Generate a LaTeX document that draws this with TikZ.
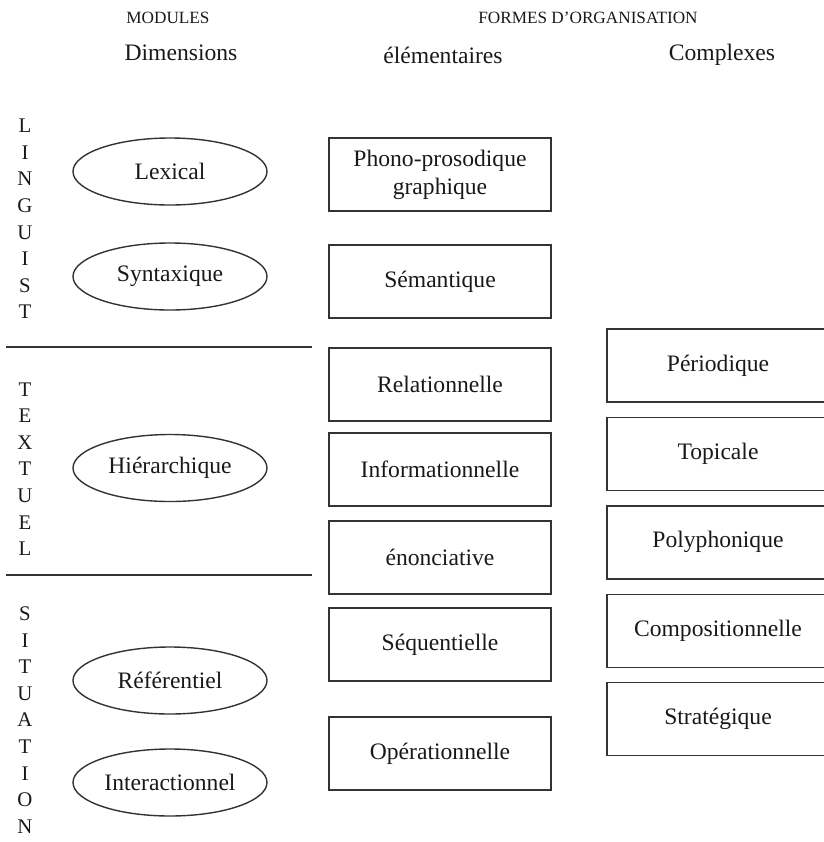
\documentclass[tikz,border=0pt]{standalone}
\usepackage{fontspec}
\setmainfont{Liberation Serif}
\usepackage{tikz}
\usetikzlibrary{positioning}
\usetikzlibrary{shapes.geometric}
\definecolor{linegray}{rgb}{0.2,0.2,0.2}

\begin{document}
\begin{tikzpicture}[
            x = 0.5pt, y = -0.5pt, % one unit per pixel, y downwards
            line width = 0.7pt, % line style
            draw = linegray,
            node distance = 7pt, % gap between complex boxes
            every node/.style = {font = \fontsize{11.8}{14}\selectfont, text = black!90}
        ]

        \tikzstyle{dimension}=[
            draw, ellipse,
            minimum width = 97pt,
            minimum height = 33.5pt,
            inner sep = 0pt
        ]
        \tikzstyle{forme}=[
            draw, rectangle, align = center,
            minimum width = 111pt,
            minimum height = 36.5pt
        ]
        \tikzstyle{head}=[font = \fontsize{8.6}{10}\selectfont]
        \tikzstyle{module}=[align = center, inner sep = 0pt, font = \fontsize{10.4}{13.3}\selectfont]

        \useasboundingbox (0,0) rectangle (824,842);

	% headings
        \node[head] (MOD) at (168,18) {MODULES};
        \node[head] (FORG) at (588,18) {FORMES D’ORGANISATION};
        \node (DIM) at (181,53) {Dimensions};
        \node (ELEM) at (443,55) {élémentaires};
        \node (CPLX) at (722,55) {Complexes};

        % modules
        \node[module] (LING) at (25,219) {L\\I\\N\\G\\U\\I\\S\\T};
        \node[module] (TEXT) at (25,469) {T\\E\\X\\T\\U\\E\\L};
        \node[module] (SITU) at (25,720) {S\\I\\T\\U\\A\\T\\I\\O\\N};

        \coordinate (C1) at (6,347);
        \coordinate (C2) at (312,347);
        \coordinate (C3) at (6,575);
        \coordinate (C4) at (312,575);
        \draw (C1) -- (C2);
        \draw (C3) -- (C4);

        % dimensions
        \node[dimension] (LEX) at (170,171.5) {Lexical};
        \node[dimension] (SYN) at (170,276.5) {Syntaxique};
        \node[dimension] (HIER) at (170,468) {Hiérarchique};
        \node[dimension] (REF) at (170,680.5) {Référentiel};
        \node[dimension] (INTER) at (170,782.5) {Interactionnel};

        % elementary forms
        \node[forme] (PHON) at (440,174.5) {Phono-prosodique\\graphique};
        \node[forme] (SEM) at (440,281.5) {Sémantique};
        \node[forme] (REL) at (440,384.5) {Relationnelle};
        \node[forme] (INFO) at (440,469.5) {Informationnelle};
        \node[forme] (ENON) at (440,557.5) {énonciative};
        \node[forme] (SEQ) at (440,644.5) {Séquentielle};
        \node[forme] (OPER) at (440,753.5) {Opérationnelle};

        % complex forms, cut by the right margin
        \node[forme] (PER) at (718,365.5) {Périodique};
        \node[forme] (TOP) [below = of PER] {Topicale};
        \node[forme] (POLY) [below = of TOP] {Polyphonique};
        \node[forme] (COMP) [below = of POLY] {Compositionnelle};
        \node[forme] (STRAT) [below = of COMP] {Stratégique};

  \end{tikzpicture}
\end{document}
